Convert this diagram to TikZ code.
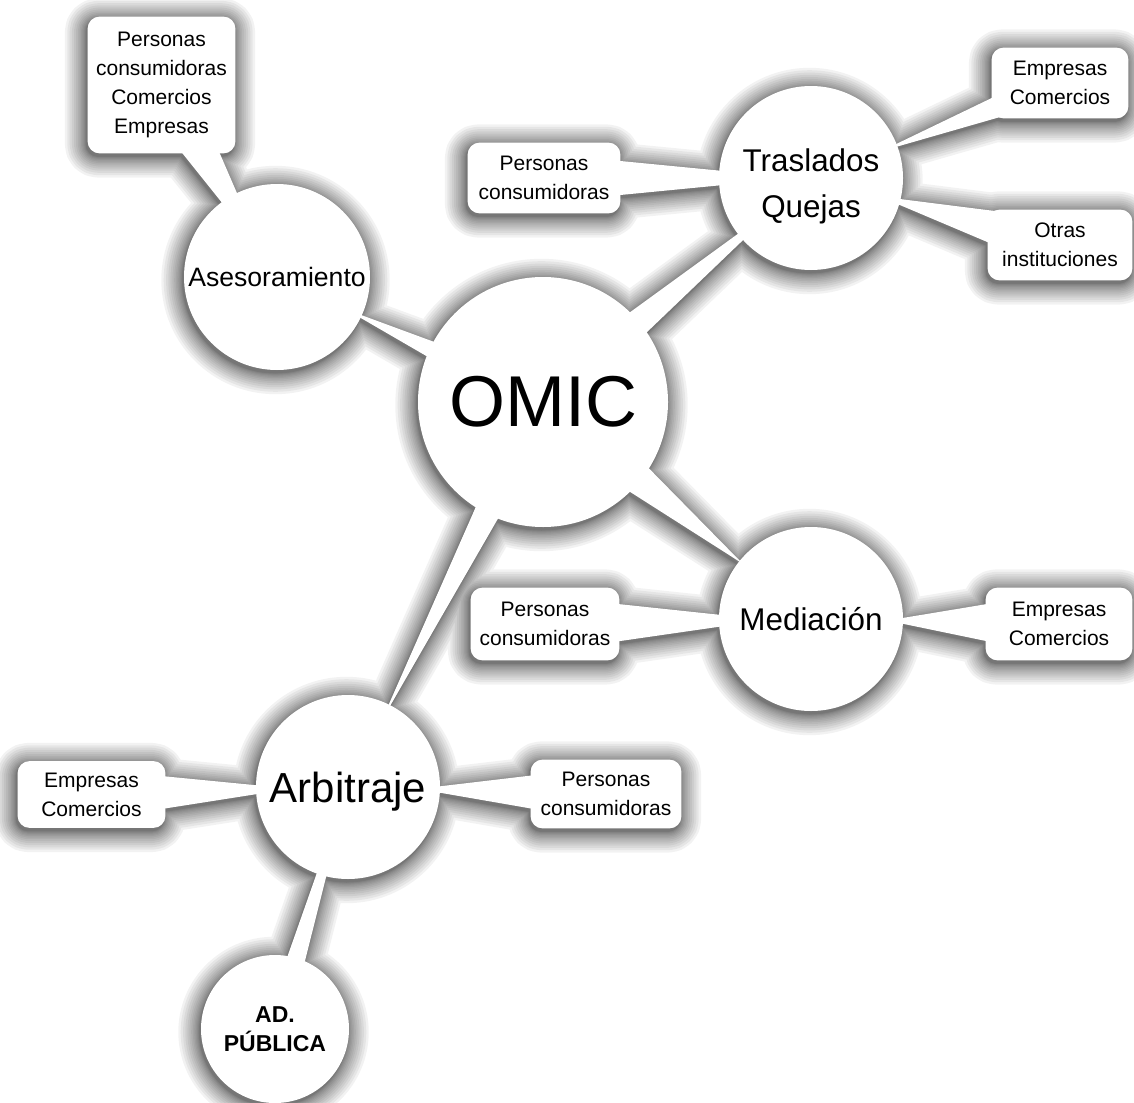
\documentclass[tikz,border=0pt]{standalone}
\usepackage{fontspec}
\setmainfont{Liberation Sans}
\usetikzlibrary{calc}
\pgfdeclarelayer{back}\pgfdeclarelayer{shad}\pgfdeclarelayer{wht}
\pgfsetlayers{back,shad,wht,main}
\newcommand\wedgepath[4]{($(#1.center)!#3!90:(#2.center)$) -- ($(#2.center)!#4!-90:(#1.center)$) -- ($(#2.center)!#4!90:(#1.center)$) -- ($(#1.center)!#3!-90:(#2.center)$) -- cycle}
\newcommand\allshapes{%
  \path[shp] \wedgepath{omic}{ases}{9.4pt}{-3.3pt};
  \path[shp] \wedgepath{omic}{trasl}{10.75pt}{-1.1pt};
  \path[shp] \wedgepath{omic}{med}{14.6pt}{-5pt};
  \path[shp] \wedgepath{omic}{arb}{9.6pt}{-2pt};
  \path[shp] \wedgepath{ases}{b1}{-1.75pt}{13.3pt};
  \path[shp] \wedgepath{trasl}{b2}{-0.75pt}{12.2pt};
  \path[shp] \wedgepath{trasl}{b3}{-3.2pt}{8.1pt};
  \path[shp] \wedgepath{trasl}{b4}{-4.9pt}{12.9pt};
  \path[shp] \wedgepath{med}{b5}{-2.75pt}{13.9pt};
  \path[shp] \wedgepath{med}{b6}{-7.1pt}{16pt};
  \path[shp] \wedgepath{arb}{b7}{-3.6pt}{12.7pt};
  \path[shp] \wedgepath{arb}{b8}{-5.1pt}{13.7pt};
  \path[shp] \wedgepath{arb}{adp}{0.4pt}{6.2pt};
  \foreach \n/\r in {omic/62.5pt, ases/46.5pt, trasl/46pt, med/46pt, arb/46pt, adp/37pt}
    {\path[shp] (\n.center) circle[radius=\r];}
  \foreach \n in {b1,b2,b3,b4,b5,b6,b7,b8}
    {\path[shp, rounded corners=6pt] (\n.south west) rectangle (\n.north east);}
}
\begin{document}
\begin{tikzpicture}[x=0.5pt, y=-0.5pt,
  circ/.style={circle, inner sep=0pt, align=center},
  boxn/.style={rectangle, inner sep=0pt, align=center, minimum height=35pt,
    font=\fontsize{10.5}{14.5}\selectfont}]
\useasboundingbox (0,0) rectangle (1134,1102);
\begin{pgfonlayer}{back}
  \fill[white] (0,0) rectangle (1134,1102);
\end{pgfonlayer}
% circles
\node[circ, minimum size=125pt, font=\fontsize{36}{40}\selectfont] (omic) at (543,402) {OMIC};
\node[circ, minimum size=93pt, font=\fontsize{13.3}{16}\selectfont] (ases) at (277,277) {Asesoramiento};
\node[circ, minimum size=92pt] (trasl) at (811,178) {};
\node[font=\fontsize{15.7}{23}\selectfont, align=center, inner sep=0pt] (traslt) at ($(trasl.center)+(0,8)$) {Traslados\\Quejas};
\node[circ, minimum size=92pt, font=\fontsize{15.7}{19}\selectfont] (med) at (811,619) {Mediación};
\node[circ, minimum size=92pt] (arb) at (348,787) {};
\node[font=\fontsize{21}{25}\selectfont, inner sep=0pt] (arbt) at ($(arb.center)+(0,5)$) {Arbitraje};
\node[circ, minimum size=74pt, font=\bfseries\fontsize{11.5}{14.5}\selectfont] (adp) at (275,1029) {AD.\\PÚBLICA};
% boxes
\node[boxn, minimum width=73.5pt, minimum height=68pt] (b1) at (161.5,85) {Personas\\consumidoras\\Comercios\\Empresas};
\node[boxn, minimum width=76pt] (b2) at (544,178) {Personas\\consumidoras};
\node[boxn, minimum width=68pt] (b3) at (1060,83) {Empresas\\Comercios};
\node[boxn, minimum width=72pt] (b4) at (1060,245) {Otras\\instituciones};
\node[boxn, minimum width=74pt, minimum height=36pt] (b5) at (545,624) {Personas\\consumidoras};
\node[boxn, minimum width=73pt, minimum height=36pt] (b6) at (1059,624) {Empresas\\Comercios};
\node[boxn, minimum width=73.5pt, minimum height=33pt] (b7) at (91.5,794.5) {Empresas\\Comercios};
\node[boxn, minimum width=75pt, minimum height=34pt] (b8) at (606,794) {Personas\\consumidoras};
\begin{pgfonlayer}{shad}
  \foreach \w in {0.25,0.8,1.6,2.6,3.8,5.1,6.6,8.3,10.1,12.1,14.2,16.4,18.8,21.2}{%
    \begin{scope}[transparency group, opacity=0.052]
      \begin{scope}[transform canvas={xshift=-0.75pt, yshift=-1.5pt}]
        \tikzset{shp/.style={fill=black, draw=black, line width=\w pt, line join=round}}
        \allshapes
      \end{scope}
    \end{scope}
  }
\end{pgfonlayer}
\begin{pgfonlayer}{wht}
  \tikzset{shp/.style={fill=white}}
  \allshapes
\end{pgfonlayer}
\end{tikzpicture}
\end{document}
